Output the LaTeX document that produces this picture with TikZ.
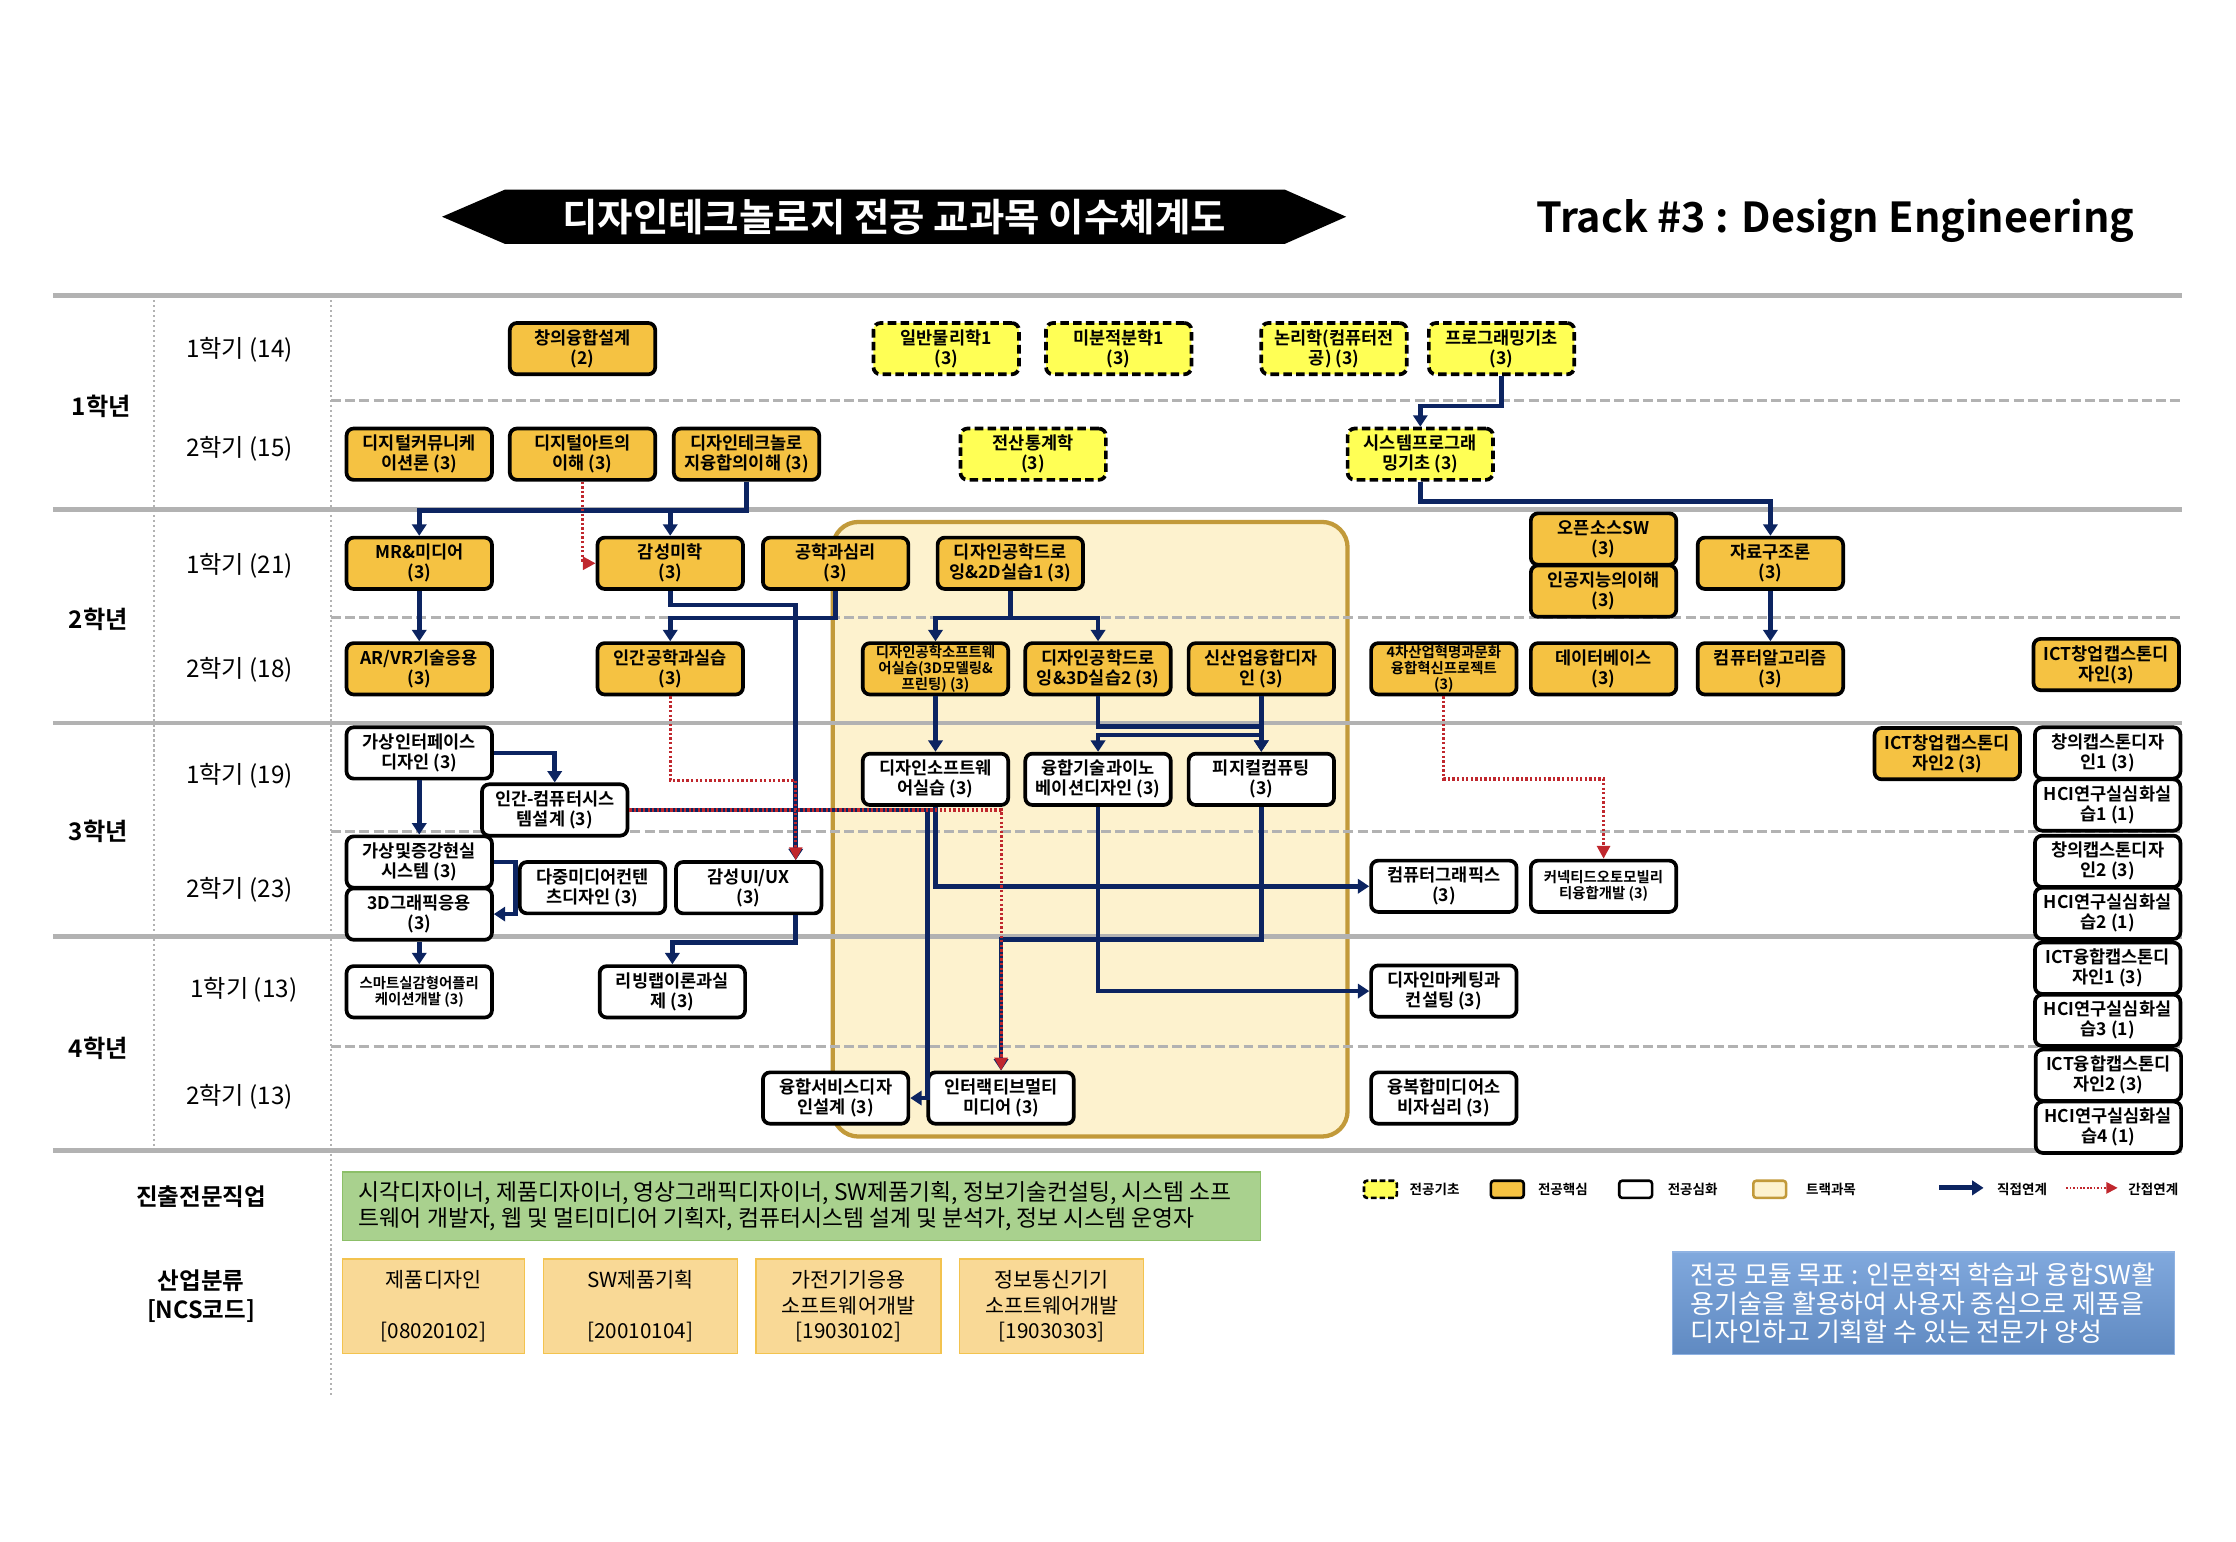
\documentclass[tikz,border=0pt]{standalone}
\usepackage{fontspec}
\setmainfont{Noto Sans CJK KR}[BoldFont=* Bold]
\usepackage{tikz}
\usetikzlibrary{positioning}
\usetikzlibrary{arrows.meta}
\usepackage{xcolor}
\definecolor{navyline}{HTML}{0C2461}
\definecolor{redline}{HTML}{C0272D}
\definecolor{coreorange}{HTML}{F5C242}
\definecolor{baseyellow}{HTML}{FFFF55}
\definecolor{trackfill}{HTML}{FDF2CE}
\definecolor{trackline}{HTML}{C29A3A}
\definecolor{gridgray}{HTML}{B2B2B2}
\definecolor{jobgreen}{HTML}{A9D18E}
\definecolor{jobline}{HTML}{8CBF68}
\definecolor{ncsfill}{HTML}{F9D996}
\definecolor{ncsline}{HTML}{F3C34F}
\definecolor{goalblue}{HTML}{6A99D7}
\definecolor{goalline}{HTML}{8FB2E2}

\begin{document}
\begin{tikzpicture}[x=1pt,y=-1pt,node distance=36.5pt,on grid,
   course/.style={draw=black,line width=2.6pt,rounded corners=5pt,minimum width=102pt,
      minimum height=36pt,inner sep=0pt,align=center,font=\fontsize{12.3}{14}\selectfont\bfseries},
   corebox/.style={course,fill=coreorange},
   basebox/.style={course,fill=baseyellow,dash pattern=on 6pt off 3pt},
   advbox/.style={course,fill=white},
   tinytext/.style={font=\fontsize{10.1}{11.4}\selectfont\bfseries},
   direct/.style={draw=navyline,line width=3.2pt,-{Triangle[width=10pt,length=8pt]}},
   indirect/.style={draw=redline,line width=2.2pt,dash pattern=on 1.6pt off 1.6pt,
      -{Triangle[width=9pt,length=9pt]}},
   gridsolid/.style={draw=gridgray,line width=3.5pt},
   griddash/.style={draw=gridgray,line width=2pt,dash pattern=on 7pt off 3pt},
   griddot/.style={draw=gridgray,line width=1pt,dash pattern=on 1.5pt off 2pt},
   yearlabel/.style={font=\fontsize{17}{20}\selectfont\bfseries},
   semlabel/.style={font=\fontsize{17}{20}\selectfont},
   headlabel/.style={font=\fontsize{16.5}{20}\selectfont\bfseries,align=center},
   ncsbox/.style={draw=ncsline,line width=1pt,fill=ncsfill,minimum height=66pt,inner sep=0pt,
      align=center,font=\fontsize{14.5}{18}\selectfont},
   legendtext/.style={font=\fontsize{9.5}{11}\selectfont\bfseries}]

   \useasboundingbox (0,0) rectangle (1568,1081);

   % title
   \fill[black] (310,152) -- (354,133) -- (901,133) -- (944,152) -- (901,171) -- (354,171) -- cycle;
   \node[text=white,font=\fontsize{27}{30}\selectfont\bfseries] (title) at (627,152)
      {디자인테크놀로지 전공 교과목 이수체계도};
   \node[font=\fontsize{29}{34}\selectfont\bfseries] (track) at (1287,155)
      {Track \#3 : Design Engineering};

   % track area
   \draw[trackline,fill=trackfill,line width=3pt,rounded corners=18pt] (584,366) rectangle (945,797);

   % grid
   \foreach \yy in {207,357,507,657,807}
      \draw[gridsolid] (37,\yy) -- (1530,\yy);
   \foreach \yy in {281,433,583,734}
      \draw[griddash] (232,\yy) -- (1530,\yy);
   \draw[griddot] (108,207) -- (108,807);
   \draw[griddot] (232,207) -- (232,980);

   % years and semesters
   \node[yearlabel] (y_1) at (71,285) {1학년};
   \node[yearlabel] (y_2) at (69,434) {2학년};
   \node[yearlabel] (y_3) at (69,583) {3학년};
   \node[yearlabel] (y_4) at (69,735) {4학년};
   \node[semlabel] (s_11) at (168,245) {1학기 (14)};
   \node[semlabel] (s_12) at (168,315) {2학기 (15)};
   \node[semlabel] (s_21) at (168,397) {1학기 (21)};
   \node[semlabel] (s_22) at (168,470) {2학기 (18)};
   \node[semlabel] (s_31) at (168,544) {1학기 (19)};
   \node[semlabel] (s_32) at (168,624) {2학기 (23)};
   \node[semlabel] (s_41) at (171,694) {1학기 (13)};
   \node[semlabel] (s_42) at (168,769) {2학기 (13)};

   % 1st year
   \node[corebox] (c_fusion) at (408.5,244.5) {창의융합설계\\(2)};
   \node[basebox] (b_physics) at (663.5,244.5) {일반물리학1\\(3)};
   \node[basebox] (b_calculus) at (784.5,244.5) {미분적분학1\\(3)};
   \node[basebox] (b_logic) at (935.5,244.5) {논리학(컴퓨터전\\공) (3)};
   \node[basebox] (b_program) at (1053,244.5) {프로그래밍기초\\(3)};
   \node[corebox] (c_digicomm) at (294,318.5) {디지털커뮤니케\\이션론 (3)};
   \node[corebox] (c_digiart) at (408.5,318.5) {디지털아트의\\이해 (3)};
   \node[corebox] (c_dtech) at (523.5,318.5) {디자인테크놀로\\지융합의이해 (3)};
   \node[basebox] (b_stat) at (724.5,318.5) {전산통계학\\(3)};
   \node[basebox] (b_sysprog) at (996,318.5) {시스템프로그래\\밍기초 (3)};

   % 2nd year
   \node[corebox] (c_mr) at (294,395) {MR\&미디어\\(3)};
   \node[corebox] (c_aesth) at (470,395) {감성미학\\(3)};
   \node[corebox] (c_psych) at (586,395) {공학과심리\\(3)};
   \node[corebox] (c_draw1) at (708.5,395) {디자인공학드로\\잉\&2D실습1 (3)};
   \node[corebox] (c_oss) at (1124.5,378) {오픈소스SW\\(3)};
   \node[corebox] (c_ai) [below=of c_oss] {인공지능의이해\\(3)};
   \node[corebox] (c_struct) at (1241.5,395) {자료구조론\\(3)};
   \node[corebox] (c_arvr) at (294,469) {AR/VR기술응용\\(3)};
   \node[corebox] (c_ergo) at (470,469) {인간공학과실습\\(3)};
   \node[corebox,tinytext] (c_sw3d) at (656,469) {디자인공학소프트웨\\어실습(3D모델링\&\\프린팅) (3)};
   \node[corebox] (c_draw2) at (770,469) {디자인공학드로\\잉\&3D실습2 (3)};
   \node[corebox] (c_newind) at (884.5,469) {신산업융합디자\\인 (3)};
   \node[corebox,tinytext] (c_4th) at (1012.5,469) {4차산업혁명과문화\\융합혁신프로젝트\\(3)};
   \node[corebox] (c_db) at (1124.5,469) {데이터베이스\\(3)};
   \node[corebox] (c_algo) at (1241.5,469) {컴퓨터알고리즘\\(3)};
   \node[corebox] (c_ictstart) at (1477,466) {ICT창업캡스톤디\\자인(3)};

   % 3rd year
   \node[advbox] (a_vui) at (294,528) {가상인터페이스\\디자인 (3)};
   \node[advbox] (a_hcsys) at (389,568) {인간-컴퓨터시스\\템설계 (3)};
   \node[advbox] (a_dsw) at (656,546.5) {디자인소프트웨\\어실습 (3)};
   \node[advbox] (a_inno) at (770,546.5) {융합기술과이노\\베이션디자인 (3)};
   \node[advbox] (a_physcomp) at (884.5,546.5) {피지컬컴퓨팅\\(3)};
   \node[corebox] (c_ictstart2) at (1365.5,528.5) {ICT창업캡스톤디\\자인2 (3)};
   \node[advbox] (a_cap1) at (1478,528) {창의캡스톤디자\\인1 (3)};
   \node[advbox] (a_lab1) [below=of a_cap1] {HCI연구실심화실\\습1 (1)};
   \node[advbox] (a_vrar) at (294,604.5) {가상및증강현실\\시스템 (3)};
   \node[advbox] (a_3dg) [below=of a_vrar] {3D그래픽응용\\(3)};
   \node[advbox] (a_multi) at (415.5,622.5) {다중미디어컨텐\\츠디자인 (3)};
   \node[advbox] (a_uiux) at (525,622.5) {감성UI/UX\\(3)};
   \node[advbox] (a_cg) at (1012.5,621.5) {컴퓨터그래픽스\\(3)};
   \node[advbox,tinytext] (a_auto) at (1124.5,621.5) {커넥티드오토모빌리\\티융합개발 (3)};
   \node[advbox] (a_cap2) at (1478,604) {창의캡스톤디자\\인2 (3)};
   \node[advbox] (a_lab2) [below=of a_cap2] {HCI연구실심화실\\습2 (1)};

   % 4th year
   \node[advbox,tinytext] (a_smart) at (294,695.5) {스마트실감형어플리\\케이션개발 (3)};
   \node[advbox] (a_living) at (471.5,695.5) {리빙랩이론과실\\제 (3)};
   \node[advbox] (a_market) at (1012.5,695) {디자인마케팅과\\컨설팅 (3)};
   \node[advbox] (a_ictfuse1) at (1478,679) {ICT융합캡스톤디\\자인1 (3)};
   \node[advbox] (a_lab3) [below=of a_ictfuse1] {HCI연구실심화실\\습3 (1)};
   \node[advbox] (a_service) at (586,770) {융합서비스디자\\인설계 (3)};
   \node[advbox] (a_interact) at (702,770) {인터랙티브멀티\\미디어 (3)};
   \node[advbox] (a_consumer) at (1012.5,770) {융복합미디어소\\비자심리 (3)};
   \node[advbox] (a_ictfuse2) at (1478.5,754) {ICT융합캡스톤디\\자인2 (3)};
   \node[advbox] (a_lab4) [below=of a_ictfuse2] {HCI연구실심화실\\습4 (1)};

   % direct links
   \draw[direct] (b_program.south) -- ++(0,21) -| (b_sysprog.north);
   \draw[direct] (b_sysprog.south) -- ++(0,14) -| (c_struct.north);
   \draw[direct] (c_struct) -- (c_algo);
   \draw[direct] (c_dtech.south) -- ++(0,20) -| (c_mr.north);
   \draw[direct] (c_dtech.south) -- ++(0,20) -| (c_aesth.north);
   \draw[direct] (c_mr) -- (c_arvr);
   \draw[direct] (c_psych.south) -- ++(0,19) -| (c_ergo.north);
   \draw[direct] (c_aesth.south) -- ++(0,10) -| ([xshift=33pt]a_uiux.north);
   \draw[direct] (c_draw1.south) -- ++(0,19) -| (c_sw3d.north);
   \draw[direct] (c_draw1.south) -- ++(0,19) -| (c_draw2.north);
   \draw[direct] (c_sw3d) -- (a_dsw);
   \draw[direct] (c_draw2.south) -- ++(0,21) -| (a_physcomp.north);
   \draw[direct] (c_newind.south) -- ++(0,27) -| (a_inno.north);
   \draw[direct] (c_newind) -- (a_physcomp);
   \draw[direct] (a_dsw.south) |- (a_cg.west);
   \draw[direct] (a_inno.south) |- (a_market.west);
   \draw[direct] (a_physcomp.south) -- ++(0,93) -| (a_interact.north);
   \draw[direct] (a_hcsys.east) -- ++(209,0) |- (a_service.east);
   \draw[direct] (a_vui.east) -| (a_hcsys.north);
   \draw[direct] (a_vui) -- (a_vrar);
   \draw[direct] (a_vrar.east) -- ++(15,0) |- (a_3dg.east);
   \draw[direct] (a_3dg) -- (a_smart);
   \draw[direct] ([xshift=33pt]a_uiux.south) -- ++(0,19) -| (a_living.north);

   % indirect links
   \draw[indirect] (c_digiart.south) |- (c_aesth.west);
   \draw[indirect] (c_ergo.south) -- ++(0,59) -| ([xshift=33pt]a_uiux.north);
   \draw[indirect] (a_hcsys.east) -| (a_interact.north);
   \draw[indirect] (c_4th.south) -- ++(0,58) -| (a_auto.north);

   % jobs and NCS
   \node[headlabel] (h_job) at (141,839) {진출전문직업};
   \node[draw=jobline,line width=1pt,fill=jobgreen,minimum width=644pt,minimum height=48pt] (job) at (562,846) {};
   \node[anchor=west,inner sep=0pt,align=left,font=\fontsize{16}{18}\selectfont] (job_t)
      at ([xshift=12pt]job.west)
      {시각디자이너, 제품디자이너, 영상그래픽디자이너, SW제품기획, 정보기술컨설팅, 시스템 소프\\
       트웨어 개발자, 웹 및 멀티미디어 기획자, 컴퓨터시스템 설계 및 분석가, 정보 시스템 운영자};
   \node[headlabel] (h_ncs) at (141,909) {산업분류\\{[NCS코드]}};
   \node[ncsbox,minimum width=128pt] (n_prod) at (304,916) {제품디자인\\\strut\\{[08020102]}};
   \node[ncsbox,minimum width=136pt] (n_swplan) at (449,916) {SW제품기획\\\strut\\{[20010104]}};
   \node[ncsbox,minimum width=130pt] (n_appl) at (595,916) {가전기기응용\\소프트웨어개발\\{[19030102]}};
   \node[ncsbox,minimum width=129pt] (n_ict) at (737.5,916) {정보통신기기\\소프트웨어개발\\{[19030303]}};

   % legend
   \node[basebox,minimum width=23pt,minimum height=12pt,line width=1.8pt,rounded corners=2pt,
      dash pattern=on 4pt off 2pt] (k_base) at (968,834) {};
   \node[legendtext] (k_base_t) at (1006,834) {전공기초};
   \node[corebox,minimum width=23pt,minimum height=12pt,line width=1.8pt,rounded corners=2pt] (k_core) at (1057,834) {};
   \node[legendtext] (k_core_t) at (1096,834) {전공핵심};
   \node[advbox,minimum width=23pt,minimum height=12pt,line width=1.8pt,rounded corners=2pt] (k_adv) at (1147,834) {};
   \node[legendtext] (k_adv_t) at (1187,834) {전공심화};
   \node[draw=trackline,fill=trackfill,minimum width=23pt,minimum height=12pt,line width=1.8pt,
      rounded corners=2pt,inner sep=0pt] (k_track) at (1241,834) {};
   \node[legendtext] (k_track_t) at (1284,834) {트랙과목};
   \coordinate (k_d1) at (1360,833);
   \coordinate (k_d2) at (1391,833);
   \draw[direct,line width=3.5pt] (k_d1) -- (k_d2);
   \node[legendtext] (k_direct_t) at (1418,834) {직접연계};
   \coordinate (k_i1) at (1449,833);
   \coordinate (k_i2) at (1485,833);
   \draw[indirect,line width=1.4pt,dash pattern=on 1.2pt off 1.2pt,-{Triangle[width=8pt,length=8pt]}] (k_i1) -- (k_i2);
   \node[legendtext] (k_indirect_t) at (1510,834) {간접연계};

   % goal
   \node[draw=goalline,line width=1pt,top color=goalblue!85!white,bottom color=goalblue!90!black,
      minimum width=352pt,minimum height=72pt] (goal) at (1349,914) {};
   \node[anchor=west,inner sep=0pt,align=left,text=white,font=\fontsize{18.2}{20}\selectfont] (goal_t)
      at ([xshift=13pt]goal.west)
      {전공 모듈 목표 : 인문학적 학습과 융합SW활\\용기술을 활용하여 사용자 중심으로 제품을\\디자인하고 기획할 수 있는 전문가 양성};
\end{tikzpicture}
\end{document}
